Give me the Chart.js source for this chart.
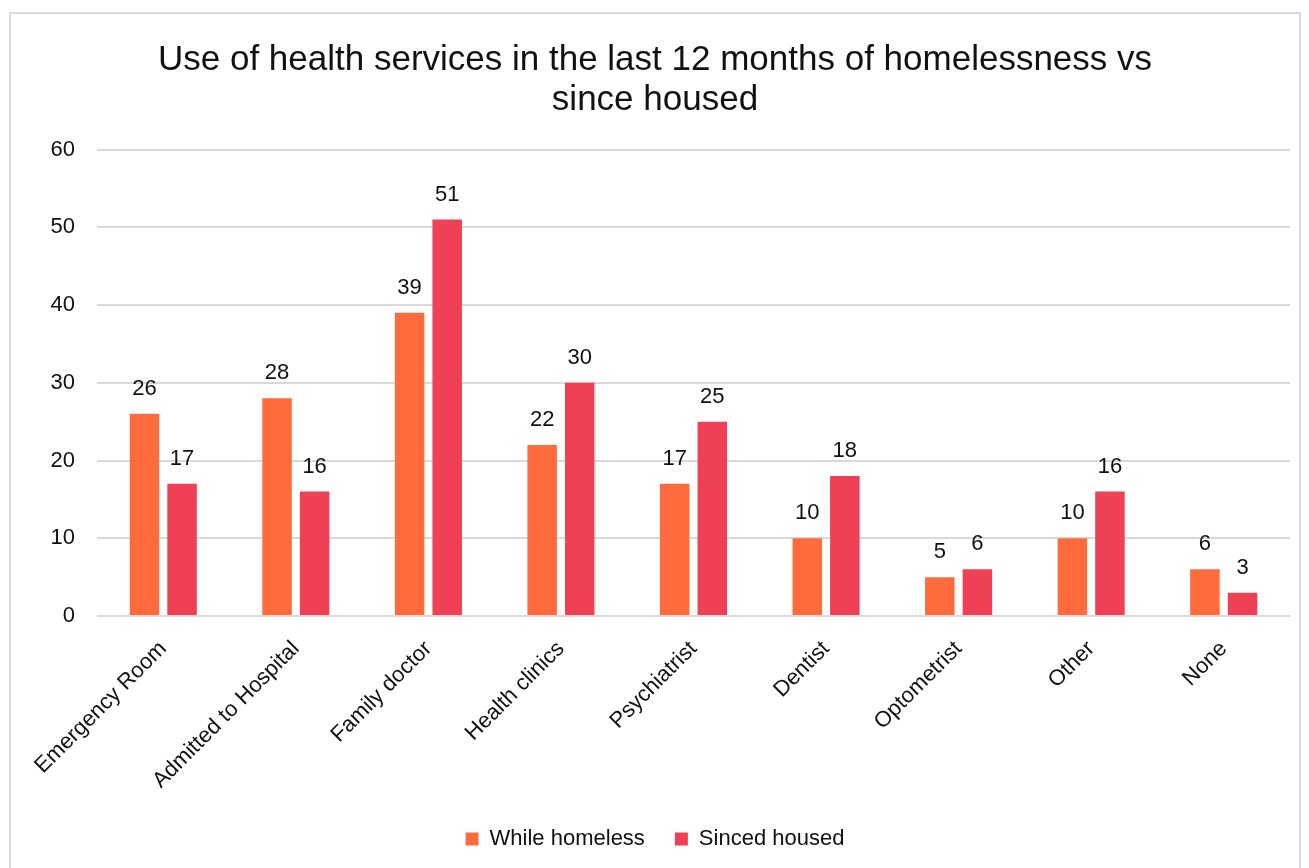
<!DOCTYPE html>
<html>
<head>
<meta charset="utf-8">
<script src="https://cdn.jsdelivr.net/npm/chart.js@4"></script>
<style>
  html, body { margin: 0; padding: 0; background: #fff; }
  #wrap { position: relative; width: 1309px; height: 868px; }
</style>
</head>
<body>
<div id="wrap"><canvas id="chartServices"></canvas></div>
<script>
// ── Data ─────────────────────────────────────
const categories = [
  'Emergency Room', 'Admitted to Hospital', 'Family doctor', 'Health clinics',
  'Psychiatrist', 'Dentist', 'Optometrist', 'Other', 'None'
];
const whileHomeless = [26, 28, 39, 22, 17, 10, 5, 10, 6];
const sincedHoused  = [17, 16, 51, 30, 25, 18, 6, 16, 3];
const yTicks        = [0, 10, 20, 30, 40, 50, 60];

const FONT   = "'Liberation Sans', Arial, sans-serif";
const INK    = '#111';
const GRID_C = '#d9d9d9';

// Outer frame around the whole chart
const framePlugin = {
  id: 'frame',
  beforeDraw(chart) {
    const { ctx } = chart;
    ctx.save();
    ctx.fillStyle = '#fff';
    ctx.fillRect(0, 0, chart.width, chart.height);
    ctx.strokeStyle = GRID_C;
    ctx.lineWidth = 2;
    ctx.strokeRect(10, 13, 1290, 870);
    ctx.restore();
  },
};

// Value labels above each bar
const valueLabels = {
  id: 'valueLabels',
  afterDatasetsDraw(chart) {
    const { ctx } = chart;
    ctx.save();
    ctx.font = '22px ' + FONT;
    ctx.fillStyle = INK;
    ctx.textAlign = 'center';
    ctx.textBaseline = 'middle';
    chart.data.datasets.forEach((ds, i) => {
      chart.getDatasetMeta(i).data.forEach((bar, j) => {
        ctx.fillText(String(ds.data[j]), bar.x, bar.y - 25);
      });
    });
    ctx.restore();
  },
};

new Chart(document.getElementById('chartServices'), {
  type: 'bar',
  data: {
    labels: categories,
    datasets: [
      {
        label: 'While homeless',
        data: whileHomeless,
        backgroundColor: '#ff6b3d',
        categoryPercentage: 0.567,
        barPercentage: 0.785,
      },
      {
        label: 'Sinced housed',
        data: sincedHoused,
        backgroundColor: '#ef4055',
        categoryPercentage: 0.567,
        barPercentage: 0.785,
      },
    ],
  },
  options: {
    responsive: true,
    maintainAspectRatio: false,
    animation: false,
    layout: { padding: { top: 26, left: 20, right: 19, bottom: 8 } },
    plugins: {
      title: {
        display: true,
        text: ['Use of health services in the last 12 months of homelessness vs', 'since housed'],
        color: INK,
        font: { family: FONT, size: 35, weight: 'normal', lineHeight: 1.15 },
        padding: { top: 14, bottom: 29 },
      },
      legend: {
        position: 'bottom',
        labels: {
          color: INK,
          font: { family: FONT, size: 22 },
          boxWidth: 13,
          boxHeight: 13,
          padding: 30,
        },
      },
      tooltip: { enabled: false },
    },
    scales: {
      x: {
        grid: { display: false },
        border: { display: false },
        ticks: {
          color: INK,
          font: { family: FONT, size: 22 },
          minRotation: 45,
          maxRotation: 45,
          padding: 12,
        },
        afterFit: s => { s.height = 182; },
      },
      y: {
        min: 0,
        max: 60,
        afterBuildTicks: s => { s.ticks = yTicks.map(v => ({ value: v })); },
        grid: { color: GRID_C, lineWidth: 2, drawTicks: false },
        border: { display: false },
        ticks: {
          color: INK,
          font: { family: FONT, size: 22 },
          padding: 22,
        },
        afterFit: s => { s.width = 77; },
      },
    },
  },
  plugins: [framePlugin, valueLabels],
});
</script>
</body>
</html>
